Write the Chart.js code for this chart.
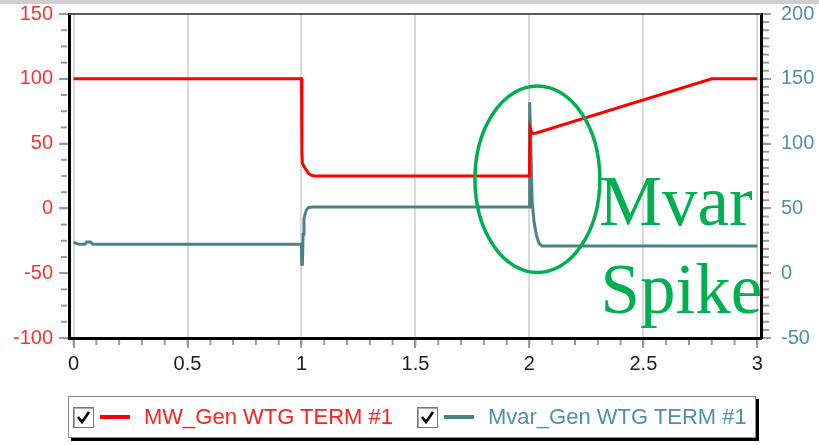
<!DOCTYPE html>
<html>
<head>
<meta charset="utf-8">
<script src="https://cdn.jsdelivr.net/npm/chart.js@4/dist/chart.umd.min.js"></script>
<style>
  html, body { margin: 0; padding: 0; background: #fff; }
  #wrap { position: relative; width: 819px; height: 445px; overflow: hidden; }
  #topbar { position: absolute; left: 0; top: 0; width: 819px; height: 4px; background: #cfcfcf; }
  canvas { position: absolute; left: 0; top: 0; }
  #legend {
    position: absolute; left: 68px; top: 396px; width: 686px; height: 40px;
    border: 1px solid #8a8a8a; background: #fff;
    box-shadow: 3px 3px 0 #000;
    font-family: "Liberation Sans", Arial, sans-serif; font-size: 22px;
    display: flex; align-items: center; white-space: nowrap;
  }
  .item { display: flex; align-items: center; }
  .box { width: 19px; height: 19px; border: 1px solid #777; box-shadow: inset 1px 1px 0 #aaa; background: #fff; margin-left: 4px; display: inline-block; position: relative; }
  .box svg { position: absolute; left: 2px; top: 2px; }
  .swatch { display: inline-block; width: 30px; height: 4px; margin: 0 14px 0 6px; }
</style>
</head>
<body>
<div id="wrap">
  <canvas id="c" width="819" height="445"></canvas>
  <div id="topbar"></div>
  <div id="legend">
    <span class="item">
      <span class="box"><svg width="15" height="15" viewBox="0 0 15 15"><path d="M2 7 L6 12 L13 2" stroke="#000" stroke-width="2.6" fill="none"/></svg></span>
      <span class="swatch" style="background:#ff0000"></span>
      <span style="color:#ff2020">MW_Gen WTG TERM #1</span>
    </span>
    <span class="item" style="margin-left:20px">
      <span class="box"><svg width="15" height="15" viewBox="0 0 15 15"><path d="M2 7 L6 12 L13 2" stroke="#000" stroke-width="2.6" fill="none"/></svg></span>
      <span class="swatch" style="background:#4b8384"></span>
      <span style="color:#4f93a3">Mvar_Gen WTG TERM #1</span>
    </span>
  </div>
</div>
<script>
// Time axis (s)
const xTicks = [0, 0.5, 1, 1.5, 2, 2.5, 3];
const mwTicks = [-100, -50, 0, 50, 100, 150];
const mvarTicks = [-50, 0, 50, 100, 150, 200];

// Active power, MW_Gen WTG TERM #1 (left axis)
const mwTime  = [0, 1.0, 1.002, 1.004, 1.013, 1.022, 1.031, 1.042, 1.055, 2.0, 2.003, 2.011, 2.027, 2.8, 3.0];
const mwValue = [100, 100, 42, 35, 31.7, 29.4, 27, 25.6, 25, 25, 62, 58, 58, 100, 100];

// Reactive power, Mvar_Gen WTG TERM #1 (right axis)
const mvarTime  = [0, 0.012, 0.025, 0.05, 0.058, 0.075, 0.085, 1.0, 1.001, 1.004, 1.007, 1.011, 1.016, 1.022, 1.03, 1.045,
                   2.0, 2.001, 2.006, 2.012, 2.02, 2.03, 2.042, 2.055, 3.0];
const mvarValue = [24, 23, 22.3, 22.3, 24, 24, 22.3, 22.3, 7, 7, 30, 42, 46, 49, 50.5, 51,
                   51, 132, 100, 55, 40, 30, 23, 21, 21];

// Highlighted spike region (x in s, y on the MW axis)
const spikeMark = { x: 2.035, y: 22.5, rx: 0.274, ry: 72 };
const spikeText = ["Mvar", "Spike"];

const toPoints = (xs, ys) => xs.map((x, i) => ({ x, y: ys[i] }));

const minorTicks = {
  id: 'minorTicks',
  afterDraw(chart) {
    const { ctx, chartArea: a, scales } = chart;
    ctx.save();
    ctx.strokeStyle = '#9a9a9a';
    ctx.lineWidth = 2;
    const drawY = (scale, step, x0, x1) => {
      for (let v = scale.min; v <= scale.max + 1e-9; v += step) {
        const y = scale.getPixelForValue(v);
        ctx.beginPath(); ctx.moveTo(x0, y); ctx.lineTo(x1, y); ctx.stroke();
      }
    };
    drawY(scales.y, 12.5, a.left - 8, a.left - 2);
    drawY(scales.y2, 6.25, a.right + 2, a.right + 8);
    for (let v = 0; v <= 3.0001; v += 0.1) {
      const x = scales.x.getPixelForValue(v);
      ctx.beginPath(); ctx.moveTo(x, a.bottom + 2); ctx.lineTo(x, a.bottom + 7); ctx.stroke();
    }
    // top frame line
    ctx.strokeStyle = '#5a5a5a';
    ctx.lineWidth = 2;
    ctx.beginPath(); ctx.moveTo(a.left, a.top); ctx.lineTo(a.right, a.top); ctx.stroke();
    ctx.restore();
  }
};

const spikeNote = {
  id: 'spikeNote',
  afterDatasetsDraw(chart) {
    const { ctx, scales } = chart;
    const cx = scales.x.getPixelForValue(spikeMark.x);
    const cy = scales.y.getPixelForValue(spikeMark.y);
    const rx = Math.abs(scales.x.getPixelForValue(spikeMark.x + spikeMark.rx) - cx);
    const ry = Math.abs(scales.y.getPixelForValue(spikeMark.y + spikeMark.ry) - cy);
    ctx.save();
    ctx.strokeStyle = '#00b050';
    ctx.lineWidth = 3.5;
    ctx.beginPath();
    ctx.ellipse(cx, cy, rx, ry, 0, 0, Math.PI * 2);
    ctx.stroke();
    ctx.fillStyle = '#00b050';
    ctx.font = '71px "Liberation Serif", "Times New Roman", serif';
    ctx.textBaseline = 'alphabetic';
    ctx.fillText(spikeText[0], scales.x.getPixelForValue(2.305), scales.y.getPixelForValue(-13));
    ctx.fillText(spikeText[1], scales.x.getPixelForValue(2.312), scales.y.getPixelForValue(-81));
    ctx.restore();
  }
};

const tickFont = { family: '"Liberation Sans", Arial, sans-serif', size: 20 };
const noPad = s => { s.paddingTop = 0; s.paddingBottom = 0; s.paddingLeft = 0; s.paddingRight = 0; };

new Chart(document.getElementById('c'), {
  type: 'line',
  data: {
    datasets: [
      { label: 'MW_Gen WTG TERM #1', data: toPoints(mwTime, mwValue), yAxisID: 'y',
        borderColor: '#ff0000', borderWidth: 3, pointRadius: 0, tension: 0 },
      { label: 'Mvar_Gen WTG TERM #1', data: toPoints(mvarTime, mvarValue), yAxisID: 'y2',
        borderColor: '#4b8384', borderWidth: 3, pointRadius: 0, tension: 0 }
    ]
  },
  options: {
    responsive: false,
    animation: false,
    layout: { padding: { top: 14, left: 0, right: 0, bottom: 0 } },
    plugins: { legend: { display: false }, tooltip: { enabled: false } },
    scales: {
      x: {
        type: 'linear', min: -0.02, max: 3.016,
        afterBuildTicks: s => { s.ticks = xTicks.map(v => ({ value: v })); },
        afterFit: s => { s.height = 107; noPad(s); },
        ticks: { color: '#1a1a2a', font: tickFont, padding: 4, maxRotation: 0,
                 callback: v => String(v) },
        grid: { color: '#dadada', lineWidth: 2, tickColor: '#9a9a9a', tickLength: 10 },
        border: { color: '#000', width: 3 }
      },
      y: {
        position: 'left', min: -100, max: 150,
        afterBuildTicks: s => { s.ticks = mwTicks.map(v => ({ value: v })); },
        afterFit: s => { s.width = 69; noPad(s); },
        ticks: { color: '#ff3030', font: tickFont, padding: 6 },
        grid: { drawOnChartArea: false, tickColor: '#9a9a9a', tickLength: 10, lineWidth: 2 },
        border: { color: '#000', width: 3 }
      },
      y2: {
        position: 'right', min: -50, max: 200,
        afterBuildTicks: s => { s.ticks = mvarTicks.map(v => ({ value: v })); },
        afterFit: s => { s.width = 58; noPad(s); },
        ticks: { color: '#4f93a3', font: tickFont, padding: 10 },
        grid: { drawOnChartArea: false, tickColor: '#9a9a9a', tickLength: 10, lineWidth: 2 },
        border: { color: '#000', width: 3 }
      }
    }
  },
  plugins: [minorTicks, spikeNote]
});
</script>
</body>
</html>
